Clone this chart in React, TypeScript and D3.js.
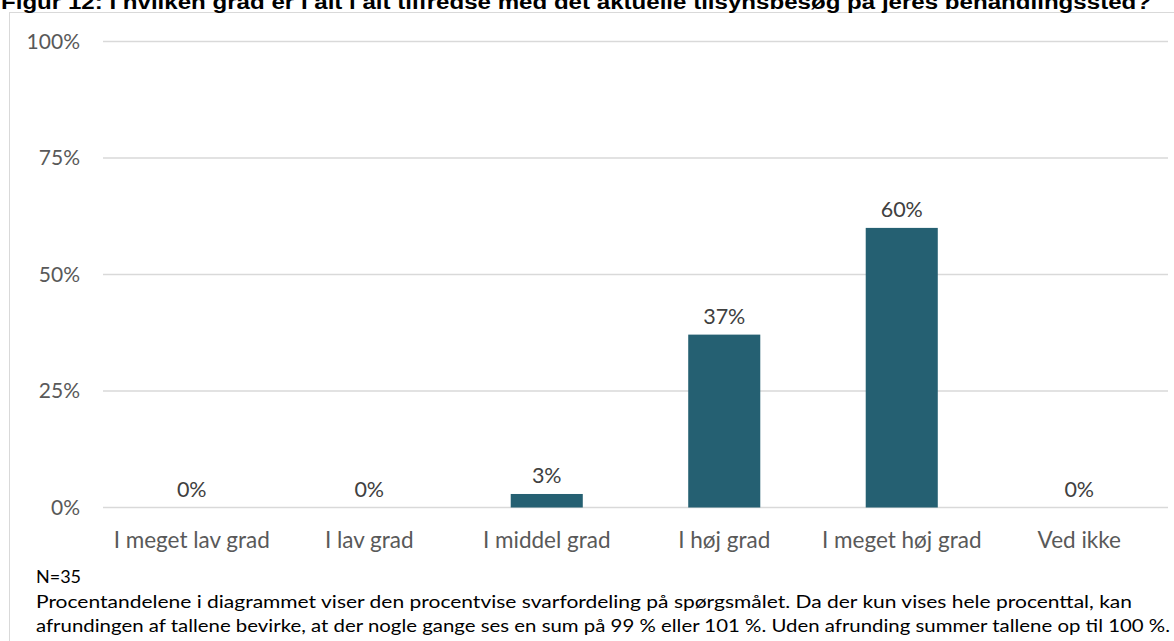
import React from "react";
import * as d3 from "d3";

const categories = ["I meget lav grad", "I lav grad", "I middel grad", "I høj grad", "I meget høj grad", "Ved ikke"];
const values = [0, 0, 2.9, 37.1, 60.0, 0];
const valueLabels = ["0%", "0%", "3%", "37%", "60%", "0%"];
const yTicks = [0, 25, 50, 75, 100];
const title = "Figur 12: I hvilken grad er I alt i alt tilfredse med det aktuelle tilsynsbesøg på jeres behandlingssted?";
const noteN = "N=35";
const noteLines = [
  "Procentandelene i diagrammet viser den procentvise svarfordeling på spørgsmålet. Da der kun vises hele procenttal, kan",
  "afrundingen af tallene bevirke, at der nogle gange ses en sum på 99 % eller 101 %. Uden afrunding summer tallene op til 100 %.",
];

const W = 1174;
const H = 641;
const plotLeft = 103;
const plotRight = 1168;
const plotTop = 41.5;
const plotBottom = 507.5;

export default function App() {
  const x = d3
    .scaleBand<string>()
    .domain(categories)
    .range([plotLeft, plotRight])
    .paddingInner(0.594)
    .paddingOuter(0.297);
  const y = d3.scaleLinear().domain([0, 100]).range([plotBottom, plotTop]);
  const font = "Lato, 'Open Sans', sans-serif";

  return (
    <svg
      width={W}
      height={H}
      style={{ position: "absolute", left: 0, top: 0, background: "#fff" }}
    >
      <rect x={9.5} y={12.5} width={1250} height={700} fill="#fff" stroke="#d9d9d9" strokeWidth={1} />
      <text
        x={1}
        y={9}
        fontFamily="'Liberation Sans', Arial, sans-serif"
        fontWeight="bold"
        fontSize={20}
        fill="#000"
        textLength={1150}
        lengthAdjust="spacingAndGlyphs"
      >
        {title}
      </text>
      {yTicks.map((t) => (
        <g key={t}>
          <line x1={plotLeft} x2={plotRight} y1={y(t)} y2={y(t)} stroke="#d9d9d9" strokeWidth={1.5} />
          <text
            x={80}
            y={y(t)}
            dy="0.35em"
            textAnchor="end"
            fontFamily={font}
            fontSize={21}
            fill="#595959"
          >
            {t}%
          </text>
        </g>
      ))}
      {categories.map((c, i) => {
        const bx = x(c)!;
        const bw = x.bandwidth();
        const top = y(values[i]);
        return (
          <g key={c}>
            {values[i] > 0 && (
              <rect x={bx} y={top} width={bw} height={plotBottom - top} fill="#256072" />
            )}
            <text
              x={bx + bw / 2}
              y={top - 11}
              textAnchor="middle"
              fontFamily={font}
              fontSize={21.5}
              fill="#404040"
            >
              {valueLabels[i]}
            </text>
            <text
              x={bx + bw / 2}
              y={548}
              textAnchor="middle"
              fontFamily={font}
              fontSize={22.5}
              fill="#595959"
            >
              {c}
            </text>
          </g>
        );
      })}
      <text x={36} y={583} fontFamily={font} fontSize={18} fill="#000">
        {noteN}
      </text>
      {noteLines.map((l, i) => (
        <text
          key={i}
          x={36}
          y={608 + i * 24}
          fontFamily={font}
          fontSize={18}
          fill="#000"
          textLength={i === 0 ? 1096 : 1134}
          lengthAdjust="spacingAndGlyphs"
        >
          {l}
        </text>
      ))}
    </svg>
  );
}
